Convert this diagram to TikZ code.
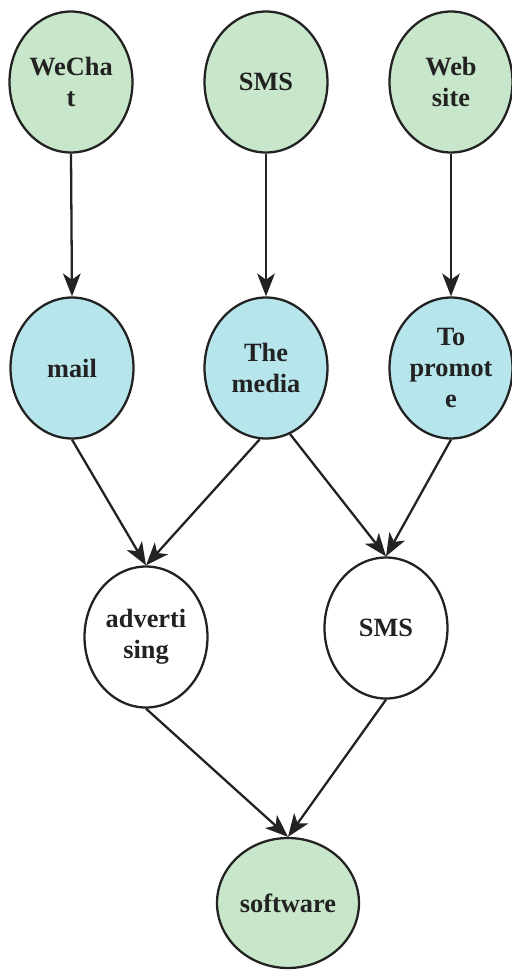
\documentclass[tikz,border=0pt]{standalone}
\usepackage{fontspec}
\setmainfont{Liberation Serif}
\usetikzlibrary{shapes.geometric, arrows.meta}

\definecolor{leafgreen}{HTML}{C8E6C9}
\definecolor{paleblue}{HTML}{B7E5EC}
\definecolor{inkgray}{HTML}{222222}

\begin{document}
\begin{tikzpicture}[
    x=0.02cm, y=-0.02cm,
    font=\bfseries\fontsize{15}{17.6}\selectfont,
    bubble/.style={ellipse, draw=inkgray, line width=1.3pt, inner sep=0pt, align=center, text=inkgray, minimum width=2.46cm, minimum height=2.82cm},
    src/.style={bubble, fill=leafgreen},
    chan/.style={bubble, fill=paleblue},
    mid/.style={bubble, fill=white},
    sink/.style={bubble, fill=leafgreen, minimum width=2.84cm, minimum height=2.6cm},
    arr/.style={-{Stealth[length=13pt, width=10pt, inset=3.5pt]}, line width=1.3pt, draw=inkgray}
]
\useasboundingbox (0,0) rectangle (511,971);

% 1. Sources
\node[src] (wechat) at (71,82) {WeCha\\t};
\node[src] (sms) at (266,82) {SMS};
\node[src] (web) at (451,82) {Web\\site};

% 2. Channels
\node[chan] (mail) at (72,368) {mail};
\node[chan] (media) at (266,368) {The\\media};
\node[chan] (promote) at (451,368) {To\\promot\\e};

% 3. Outcomes
\node[mid] (adv) at (146,637) {adverti\\sing};
\node[mid] (sms2) at (386,628) {SMS};
\node[sink] (soft) at (288,903) {software};

% -- Links --
\draw[arr] (wechat.south) -- (mail.north);
\draw[arr] (sms.south) -- (media.north);
\draw[arr] (web.south) -- (promote.north);

\draw[arr] (mail.south) -- (adv.north);
\draw[arr] (media.-95) -- (adv.north);
\draw[arr] (media.-70) -- (sms2.north);
\draw[arr] (promote.south) -- (sms2.north);

\draw[arr] (adv.south) -- (soft.north);
\draw[arr] (sms2.south) -- (soft.north);

\end{tikzpicture}
\end{document}
